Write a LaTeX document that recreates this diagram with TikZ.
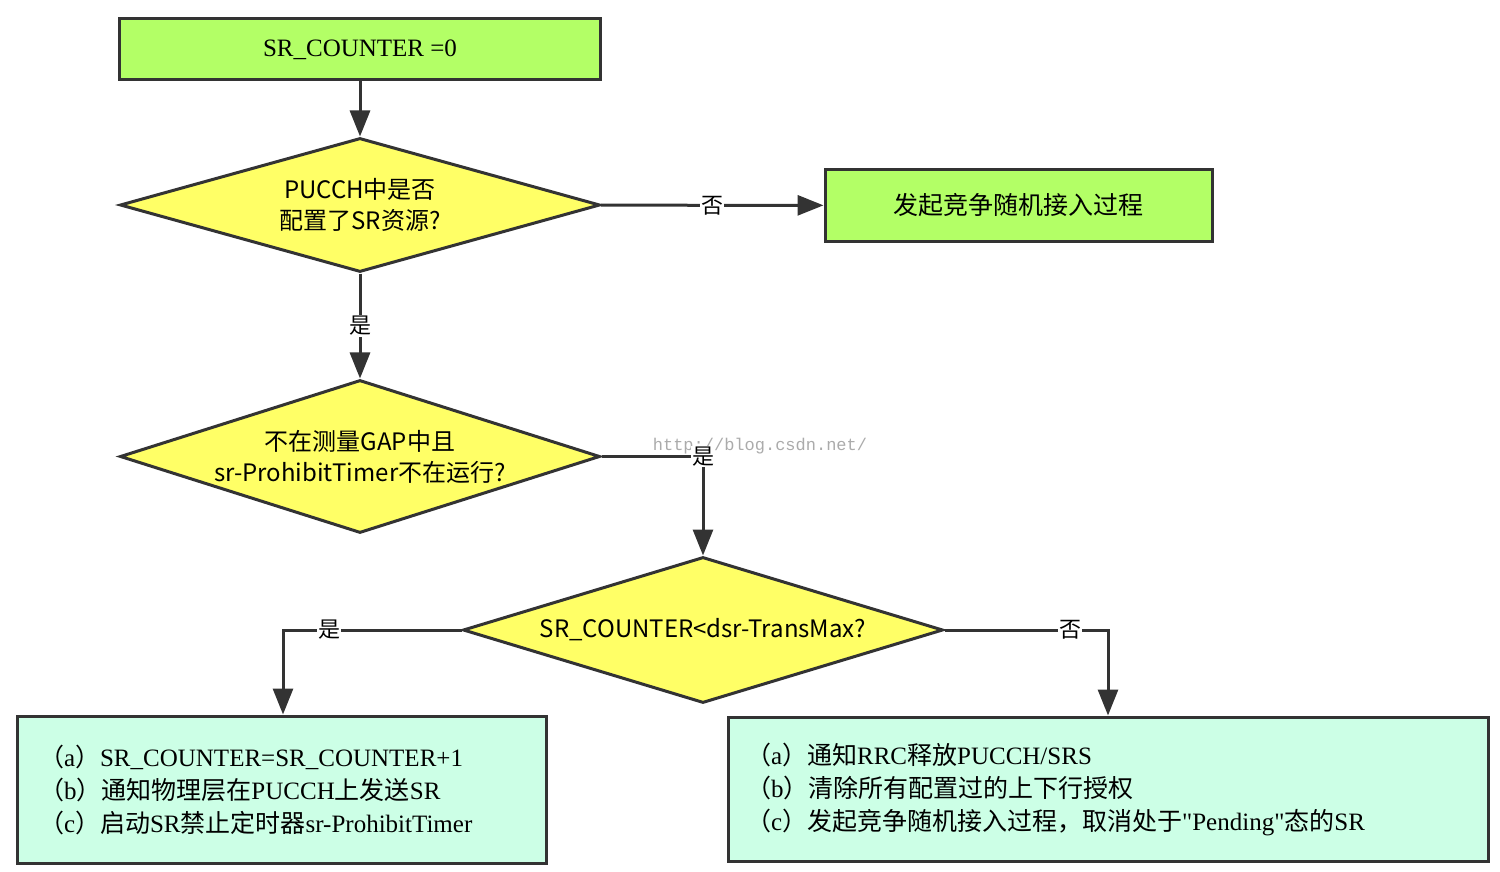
\documentclass[tikz,border=0pt]{standalone}
\usepackage{fontspec}
\setmainfont{Liberation Serif}
\newfontfamily\cjk{Noto Sans CJK SC}
\newfontfamily\wmfont{Liberation Mono}
\newfontfamily\plainserif[Ligatures=Common]{Liberation Serif}
\newcommand{\zh}[1]{{\cjk #1}}
\newcommand{\sq}{{\plainserif\symbol{34}}}
\usetikzlibrary{shapes.geometric,arrows.meta}
\definecolor{boxgreen}{RGB}{179,255,102}
\definecolor{diayellow}{RGB}{255,255,102}
\definecolor{boxmint}{RGB}{204,255,230}
\definecolor{edgegray}{RGB}{51,51,51}

\begin{document}
\begin{tikzpicture}[x=1pt, y=-1pt]
	\tikzstyle{every node}=[font=\fontsize{25}{33}\selectfont]
	\tikzstyle{process}=[rectangle, draw=edgegray, line width=3pt, fill=boxgreen, inner sep=0pt]
	\tikzstyle{infobox}=[rectangle, draw=edgegray, line width=3pt, fill=boxmint, align=left]
	\tikzstyle{decision}=[diamond, draw=edgegray, line width=3pt, fill=diayellow, inner sep=0pt]
	\tikzstyle{flow}=[draw=edgegray, line width=3pt, -{Triangle[length=26pt, width=20pt]}]
	\tikzstyle{tag}=[fill=white, inner sep=1pt, font=\cjk\fontsize{22}{22}\selectfont]
	\useasboundingbox (0,0) rectangle (1500,872);

	%boxes
	\node[process, minimum width=481pt, minimum height=61pt] (start) at (360,49.5) {SR\_COUNTER =0};
	\node[process, minimum width=387pt, minimum height=71pt] (retry) at (1018.5,205.5) {\zh{发起竞争随机接入过程}};
	\node[infobox, text width=485pt, inner xsep=22pt, minimum height=147pt] (incr) at (281.5,789.5)
		{\zh{（}a\zh{）}SR\_COUNTER=SR\_COUNTER+1\\
		 \zh{（}b\zh{）}\zh{通知物理层在}PUCCH\zh{上发送}SR\\
		 \zh{（}c\zh{）}\zh{启动}SR\zh{禁止定时器}sr-ProhibitTimer};
	\node[infobox, text width=724pt, inner xsep=18pt, minimum height=144pt] (release) at (1108,789)
		{\zh{（}a\zh{）}\zh{通知}RRC\zh{释放}PUCCH/SRS\\
		 \zh{（}b\zh{）}\zh{清除所有配置过的上下行授权}\\
		 \zh{（}c\zh{）}\zh{发起竞争随机接入过程，取消处于}\sq Pending\sq\zh{态的}SR};

	%decisions
	\node[decision, minimum width=480pt, minimum height=134pt,
		label={[align=center, font=\cjk\fontsize{24}{31}\selectfont]center:PUCCH中是否\\配置了SR资源?}] (d1) at (360,205) {};
	\node[decision, minimum width=480pt, minimum height=153pt,
		label={[align=center, font=\cjk\fontsize{24}{31}\selectfont]center:不在测量GAP中且\\sr-ProhibitTimer不在运行?}] (d2) at (360,456.5) {};
	\node[decision, minimum width=480pt, minimum height=146pt,
		label={[font=\cjk\fontsize{24}{31}\selectfont]center:SR\_COUNTER<dsr-TransMax?}] (d3) at (703,630) {};

	%watermark
	\node[text=black!33, font=\wmfont\fontsize{17}{17}\selectfont] (mark) at (760,446) {http://blog.csdn.net/};

	%arrows
	\draw[flow] (start) -- (d1);
	\draw[flow] (d1) -- node[tag] {否} (retry);
	\draw[flow] (d1) -- node[tag] {是} (d2);
	\draw[flow] (d2.east) -| node[tag] {是} (d3.north);
	\draw[flow] (d3.west) -| node[tag, pos=0.37] {是} ([xshift=1.5pt]incr.north);
	\draw[flow] (d3.east) -| node[tag, pos=0.385] {否} (release.north);
\end{tikzpicture}
\end{document}
